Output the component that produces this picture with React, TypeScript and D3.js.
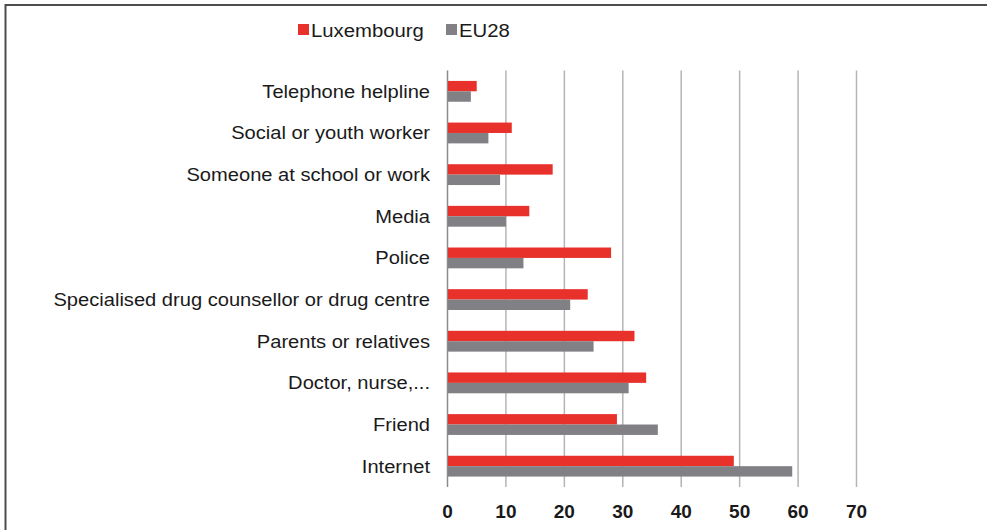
import React from "react";
import * as d3 from "d3";

const categories = [
  "Telephone helpline",
  "Social or youth worker",
  "Someone at school or work",
  "Media",
  "Police",
  "Specialised drug counsellor or drug centre",
  "Parents or relatives",
  "Doctor, nurse,...",
  "Friend",
  "Internet",
];
const luxembourg = [5, 11, 18, 14, 28, 24, 32, 34, 29, 49];
const eu28 = [4, 7, 9, 10, 13, 21, 25, 31, 36, 59];
const seriesNames = ["Luxembourg", "EU28"];
const seriesColors = ["#e8312b", "#818185"];
const xTicks = [0, 10, 20, 30, 40, 50, 60, 70];

const width = 987;
const height = 530;
const margin = { top: 70.5, right: 130.5, bottom: 43, left: 447.5 };

const App = () => {
  const x = d3
    .scaleLinear()
    .domain([0, 70])
    .range([margin.left, width - margin.right]);

  const y = d3
    .scaleBand()
    .domain(categories)
    .range([margin.top, height - margin.bottom])
    .paddingInner(0.5)
    .paddingOuter(0.25);

  const inner = d3
    .scaleBand()
    .domain(seriesNames)
    .range([0, y.bandwidth()]);

  const values = [luxembourg, eu28];
  const font = "'Liberation Sans', Arial, sans-serif";

  return (
    <div style={{ position: "absolute", left: 0, top: 0 }}>
      <svg width={width} height={height} style={{ display: "block" }}>
        <rect width={width} height={height} fill="#fff" />
        {/* frame */}
        <line x1={5} x2={width} y1={5} y2={5} stroke="#4d4d4d" strokeWidth={2} />
        <line x1={5.5} x2={5.5} y1={4} y2={height} stroke="#4d4d4d" strokeWidth={2} />

        {/* legend */}
        {seriesNames.map((s, i) => {
          const lx = i === 0 ? 298 : 446;
          return (
            <g key={s}>
              <rect x={lx} y={24} width={11} height={11} fill={seriesColors[i]} />
              <text
                transform={`translate(${lx + 13},36.5) scale(1.07,1)`}
                fontFamily={font}
                fontSize={19}
                fill="#1a1a1a"
              >
                {s}
              </text>
            </g>
          );
        })}

        {/* grid */}
        {xTicks.map((t) => (
          <line
            key={t}
            x1={x(t)}
            x2={x(t)}
            y1={margin.top}
            y2={height - margin.bottom}
            stroke={t === 0 ? "#8c8c8c" : "#b5b5b5"}
            strokeWidth={1.5}
          />
        ))}

        {/* bars */}
        {categories.map((c, ci) => (
          <g key={c} transform={`translate(0,${y(c)})`}>
            {seriesNames.map((s, si) => (
              <rect
                key={s}
                x={x(0) + 0.5}
                y={inner(s)}
                width={x(values[si][ci]) - x(0) - 0.5}
                height={inner.bandwidth()}
                fill={seriesColors[si]}
              />
            ))}
            <text
              transform={`translate(430,${y.bandwidth() / 2 + 6.5}) scale(1.087,1)`}
              textAnchor="end"
              fontFamily={font}
              fontSize={18.5}
              fill="#1a1a1a"
            >
              {c}
            </text>
          </g>
        ))}

        {/* x axis labels */}
        {xTicks.map((t) => (
          <text
            key={t}
            x={x(t)}
            y={518}
            textAnchor="middle"
            fontFamily={font}
            fontSize={19}
            fontWeight="bold"
            fill="#1a1a1a"
          >
            {t}
          </text>
        ))}
      </svg>
    </div>
  );
};

export default App;
